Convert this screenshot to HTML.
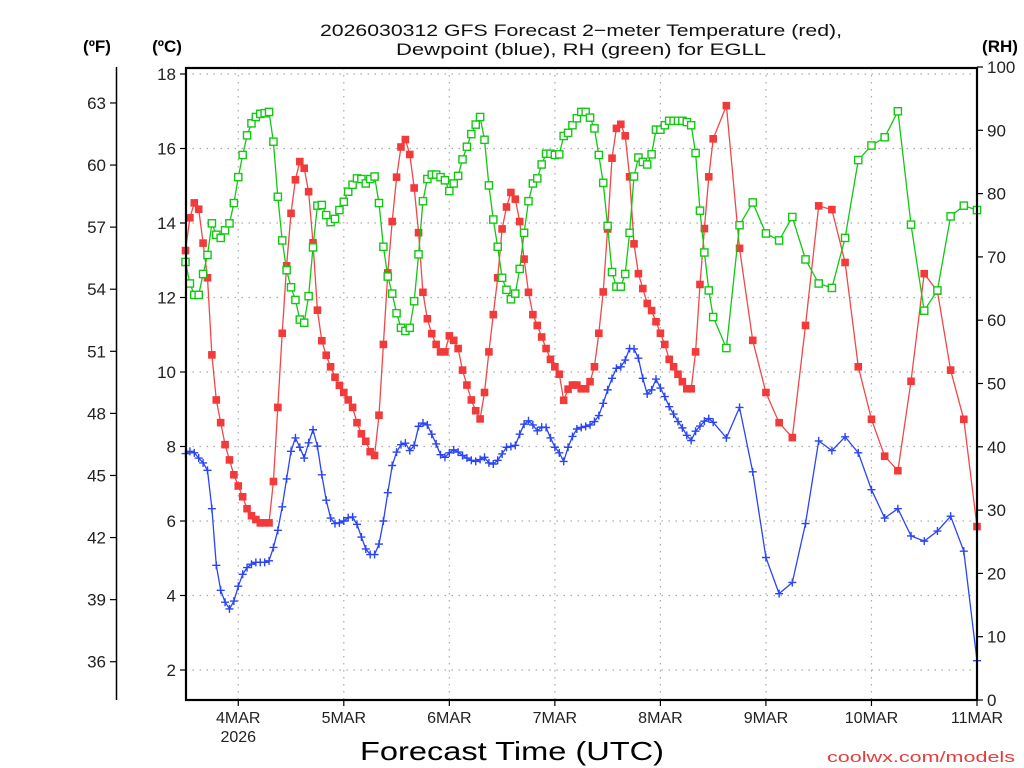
<!DOCTYPE html>
<html><head><meta charset="utf-8"><style>
html,body{margin:0;padding:0;background:#fff;width:1024px;height:768px;overflow:hidden}
svg text{font-family:"Liberation Sans",sans-serif}
</style></head><body>
<svg id="chart" width="1024" height="768" xmlns="http://www.w3.org/2000/svg"></svg>
<script>
// ---- data ----
const hourlyHours = [];
for (let h = 0; h <= 120; h++) hourlyHours.push(h);
const threeHourlyHours = [123,126,129,132,135,138,141,144,147,150,153,156,159,162,165,168,171,174,177,180];
const forecastHours = hourlyHours.concat(threeHourlyHours);

const temperatureC = [13.26,14.14,14.54,14.37,13.46,12.53,10.46,9.25,8.64,8.05,7.64,7.24,6.94,6.65,6.33,6.14,6.04,5.95,5.95,5.95,7.06,9.05,11.04,12.85,14.26,15.16,15.65,15.47,14.84,13.47,11.66,10.84,10.45,10.14,9.86,9.64,9.45,9.25,9.05,8.64,8.34,8.14,7.86,7.76,8.84,
10.74,12.66,14.04,15.23,16.04,16.24,15.84,14.94,13.74,12.14,11.43,11.03,10.74,10.54,10.54,10.97,10.85,10.63,10.05,9.65,9.25,8.96,8.74,9.45,10.54,11.54,12.53,13.84,14.43,14.82,14.64,14.04,13.03,12.14,11.54,11.25,10.94,10.63,10.34,10.14,9.94,9.24,9.54,9.65,
9.65,9.55,9.55,9.74,10.14,11.04,12.15,13.84,15.74,16.54,16.65,16.34,15.24,13.44,12.64,12.24,11.84,11.65,11.35,11.04,10.74,10.34,10.14,9.94,9.74,9.55,9.55,10.54,12.35,13.85,15.24,16.26,
17.15,13.32,10.85,9.45,8.64,8.24,11.25,14.46,14.36,12.94,10.14,8.73,7.74,7.35,9.75,12.64,12.17,10.05,8.73,5.85];

const dewpointC = [7.81,7.87,7.83,7.69,7.56,7.36,6.33,4.81,4.14,3.82,3.64,3.85,4.25,4.57,4.75,4.84,4.89,4.89,4.89,4.93,5.29,5.75,6.38,7.13,7.87,8.23,7.98,7.69,8.10,8.45,8.01,7.24,6.56,6.08,5.93,5.95,6.00,6.09,6.11,5.91,5.57,5.25,5.10,5.10,5.38,
6.0,6.76,7.49,7.85,8.05,8.09,7.89,8.03,8.54,8.63,8.58,8.33,8.07,7.78,7.71,7.83,7.91,7.85,7.76,7.69,7.63,7.60,7.65,7.71,7.56,7.53,7.63,7.80,7.98,8.00,8.03,8.33,8.60,8.69,8.58,8.42,8.52,8.51,8.23,7.98,7.83,7.60,7.98,8.27,
8.47,8.51,8.54,8.58,8.67,8.83,9.16,9.52,9.83,10.10,10.14,10.32,10.63,10.62,10.37,9.83,9.41,9.52,9.81,9.57,9.34,9.07,8.87,8.67,8.50,8.30,8.16,8.41,8.55,8.68,8.75,8.65,
8.23,9.05,7.32,5.02,4.05,4.35,5.93,8.15,7.89,8.26,7.83,6.84,6.08,6.33,5.60,5.46,5.73,6.13,5.19,2.25];

const relHumidity = [69.2,65.8,64.0,64.0,67.3,70.3,75.3,73.5,73.0,74.2,75.3,78.5,82.6,86.1,89.2,91.1,92.1,92.6,92.7,92.9,88.2,79.5,72.6,67.9,65.2,63.2,60.1,59.6,63.8,71.5,78.1,78.2,76.6,75.5,76.0,77.4,78.7,80.3,81.4,82.4,82.3,81.6,82.3,82.7,78.5,
71.6,66.9,64.2,61.1,58.8,58.3,58.8,63.0,70.4,78.8,82.3,83.0,83.0,82.6,82.1,80.4,81.6,82.8,85.4,87.4,89.4,90.9,92.1,88.5,81.3,75.9,71.6,66.7,64.8,63.3,64.2,68.1,73.8,78.8,81.6,82.4,84.6,86.3,86.3,86.1,86.2,89.1,89.6,90.8,
91.9,92.9,92.9,92.0,90.3,86.1,81.7,74.9,67.6,65.3,65.3,67.3,73.8,82.7,85.7,85.0,84.6,86.2,90.1,90.1,90.8,91.5,91.5,91.5,91.5,91.3,90.8,86.4,77.3,70.7,64.7,60.5,
55.6,75.0,78.6,73.7,72.6,76.3,69.6,65.8,65.1,73.0,85.3,87.6,88.9,93.0,75.1,61.5,64.7,76.4,78.1,77.4];

const celsiusTicks = [2,4,6,8,10,12,14,16,18];
const fahrenheitTicks = [36,39,42,45,48,51,54,57,60,63];
const rhTicks = [0,10,20,30,40,50,60,70,80,90,100];
const dayLabels = ["4MAR","5MAR","6MAR","7MAR","8MAR","9MAR","10MAR","11MAR"];
const dayHours = [12,36,60,84,108,132,156,180];

// ---- axes ----
const X0 = 185.5, X1 = 977, HMAX = 180;
function xOf(h){ return X0 + h*(X1-X0)/HMAX; }
function yC(c){ return 74 + (18-c)*37.25; }
function yRH(r){ return 700 - r*6.33; }
function yF(f){ return yC((f-32)*5/9); }

const svg = document.getElementById('chart');
const NS = 'http://www.w3.org/2000/svg';
function mk(tag, attrs, parent){
  const e = document.createElementNS(NS, tag);
  for (const k in attrs) e.setAttribute(k, attrs[k]);
  (parent||svg).appendChild(e);
  return e;
}
function txt(str, x, y, size, anchor, parent, extra, color){
  const t = mk('text', Object.assign({x:x, y:y, 'font-size':size, 'text-anchor':anchor||'start'}, extra||{}), parent);
  t.setAttribute('style', 'fill:' + (color || '#222'));
  t.textContent = str;
  return t;
}

// grid
const grid = mk('g', {stroke:'#aaa','stroke-width':1.2,'stroke-dasharray':'1.5,5.5'});


celsiusTicks.forEach(c => { mk('line',{x1:X0,x2:X1,y1:yC(c),y2:yC(c)},grid); });
dayHours.forEach(h => { mk('line',{x1:xOf(h),x2:xOf(h),y1:68,y2:700},grid); });

// title
const title = mk('g', {});


txt('2026030312 GFS Forecast 2\u2212meter Temperature (red),', 581, 36, 17, 'middle', title, {textLength:522, lengthAdjust:'spacingAndGlyphs'}, '#111');
txt('Dewpoint (blue), RH (green) for EGLL', 581, 55, 17, 'middle', title, {textLength:370, lengthAdjust:'spacingAndGlyphs'}, '#111');

// unit headers
const hF = txt('(\u00BAF)', 97, 52, 17, 'middle', null, {'font-weight':'bold'}, '#000');


const hC = txt('(\u00BAC)', 167, 52, 17, 'middle', null, {'font-weight':'bold'}, '#000');


const hR = txt('(RH)', 1000, 52, 17, 'middle', null, {'font-weight':'bold'}, '#000');



// fahrenheit axis
const fAx = mk('g', {});


mk('line',{x1:116.5,x2:116.5,y1:67,y2:700,stroke:'#000','stroke-width':1.5},fAx);
fahrenheitTicks.forEach(f => {
  mk('line',{x1:110,x2:116.5,y1:yF(f),y2:yF(f),stroke:'#000','stroke-width':1.2},fAx);
  txt(String(f), 106, yF(f)+6, 17, 'end', fAx);
});

// celsius axis
const cAx = mk('g', {});


celsiusTicks.forEach(c => {
  mk('line',{x1:180,x2:186,y1:yC(c),y2:yC(c),stroke:'#000','stroke-width':1.2},cAx);
  txt(String(c), 176, yC(c)+6, 17, 'end', cAx);
});

// rh axis
const rAx = mk('g', {});


rhTicks.forEach(r => {
  mk('line',{x1:977,x2:983,y1:yRH(r),y2:yRH(r),stroke:'#000','stroke-width':1.2},rAx);
  txt(String(r), 987, yRH(r)+6, 17, 'start', rAx);
});

// x axis
const xAx = mk('g', {});


dayHours.forEach((h,i) => {
  mk('line',{x1:xOf(h),x2:xOf(h),y1:700,y2:706,stroke:'#000','stroke-width':1.2},xAx);
  txt(dayLabels[i], xOf(h), 723, 16, 'middle', xAx);
});
txt('2026', xOf(12), 742, 16, 'middle', xAx);
const xt = txt('Forecast Time (UTC)', 512, 760, 26, 'middle', null, {textLength:304, lengthAdjust:'spacingAndGlyphs'}, '#000');


const cr = txt('coolwx.com/models', 921, 762, 15, 'middle', null, {textLength:188, lengthAdjust:'spacingAndGlyphs'}, '#e43c3c');



// series
function pts(vals, yf){ return vals.map((v,i)=> xOf(forecastHours[i]).toFixed(1)+','+yf(v).toFixed(1)).join(' '); }

const gBlue = mk('g', {});


mk('polyline',{points:pts(dewpointC,yC),fill:'none',stroke:'#2a45f5','stroke-width':1.3},gBlue);
dewpointC.forEach((v,i)=>{
  const x = xOf(forecastHours[i]), y = yC(v);
  const p = mk('path',{d:`M${x-4},${y}H${x+4}M${x},${y-4}V${y+4}`,stroke:'#2a45f5','stroke-width':1.4},gBlue);
  
  
});

const gRed = mk('g', {});


mk('polyline',{points:pts(temperatureC,yC),fill:'none',stroke:'#f04848','stroke-width':1.3},gRed);
temperatureC.forEach((v,i)=>{
  const x = xOf(forecastHours[i]), y = yC(v);
  const r = mk('rect',{x:x-3.8,y:y-3.8,width:7.6,height:7.6,fill:'#f23a3a'},gRed);
  
  
});

const gGreen = mk('g', {});


mk('polyline',{points:pts(relHumidity,yRH),fill:'none',stroke:'#12c812','stroke-width':1.3},gGreen);
relHumidity.forEach((v,i)=>{
  const x = xOf(forecastHours[i]), y = yRH(v);
  const r = mk('rect',{x:x-3.6,y:y-3.6,width:7.2,height:7.2,fill:'#fff',stroke:'#12c812','stroke-width':1.4},gGreen);
  
  
});

// frame
const frame = mk('rect',{x:186,y:68,width:791,height:632,fill:'none',stroke:'#000','stroke-width':2.2});


</script>
</body></html>
